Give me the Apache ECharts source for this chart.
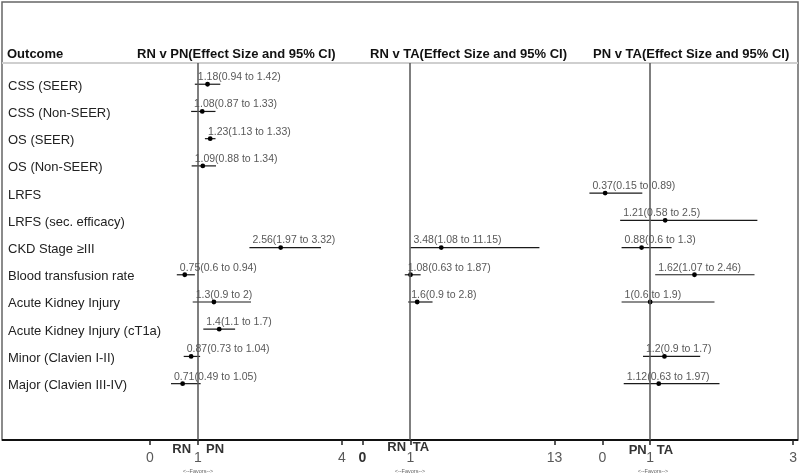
<!DOCTYPE html>
<html>
<head>
<meta charset="utf-8">
<script src="https://cdn.jsdelivr.net/npm/echarts@6/dist/echarts.min.js"></script>
<style>
  html, body { margin: 0; padding: 0; background: #fff; }
  #chart { width: 800px; height: 476px; }
</style>
</head>
<body>
<div id="chart"></div>
<script>
const OUTCOMES = [
  "CSS (SEER)", "CSS (Non-SEER)", "OS (SEER)", "OS (Non-SEER)", "LRFS",
  "LRFS (sec. efficacy)", "CKD Stage ≥III", "Blood transfusion rate",
  "Acute Kidney Injury", "Acute Kidney Injury (cT1a)", "Minor (Clavien I-II)",
  "Major (Clavien III-IV)",
];

const PANEL_TITLES = [
  "RN v PN(Effect Size and 95% CI)",
  "RN v TA(Effect Size and 95% CI)",
  "PN v TA(Effect Size and 95% CI)",
];

// effect size + 95% CI for each outcome row (null = not reported)
const RN_PN_EST = [1.18, 1.08, 1.23, 1.09, null, null, 2.56, 0.75, 1.3, 1.4, 0.87, 0.71];
const RN_PN_LO  = [0.94, 0.87, 1.13, 0.88, null, null, 1.97, 0.6, 0.9, 1.1, 0.73, 0.49];
const RN_PN_HI  = [1.42, 1.33, 1.33, 1.34, null, null, 3.32, 0.94, 2, 1.7, 1.04, 1.05];

const RN_TA_EST = [null, null, null, null, null, null, 3.48, 1.08, 1.6, null, null, null];
const RN_TA_LO  = [null, null, null, null, null, null, 1.08, 0.63, 0.9, null, null, null];
const RN_TA_HI  = [null, null, null, null, null, null, 11.15, 1.87, 2.8, null, null, null];

const PN_TA_EST = [null, null, null, null, 0.37, 1.21, 0.88, 1.62, 1, null, 1.2, 1.12];
const PN_TA_LO  = [null, null, null, null, 0.15, 0.58, 0.6, 1.07, 0.6, null, 0.9, 0.63];
const PN_TA_HI  = [null, null, null, null, 0.89, 2.5, 1.3, 2.46, 1.9, null, 1.7, 1.97];

const TICK_VALUES = [0, 1, 4];
const TICK_LABELS = [["0", "1", "4"], ["0", "1", "13"], ["0", "1", "3"]];
const FAVOR_LABELS = [["RN", "PN"], ["RN", "TA"], ["PN", "TA"]];

const FONT = '"Liberation Sans", Arial, sans-serif';

function toRows(est, lo, hi) {
  const rows = [];
  est.forEach((e, i) => {
    if (e != null) rows.push([i, e, lo[i], hi[i]]);
  });
  return rows;
}

const panels = [
  { data: toRows(RN_PN_EST, RN_PN_LO, RN_PN_HI), left: 150, width: 192, range: [0.094, 3.717] },
  { data: toRows(RN_TA_EST, RN_TA_LO, RN_TA_HI), left: 362.5, width: 192, range: [-2.672, 12.328] },
  { data: toRows(PN_TA_EST, PN_TA_LO, PN_TA_HI), left: 602.5, width: 192.5, range: [0.333, 3.0] },
];

function renderCI(params, api) {
  const yv = api.value(0) - 0.07;
  const est = api.value(1), lo = api.value(2), hi = api.value(3);
  const pLo = api.coord([lo, yv]);
  const pHi = api.coord([hi, yv]);
  const pEst = api.coord([est, yv]);
  return {
    type: "group",
    children: [
      {
        type: "line",
        shape: { x1: pLo[0], y1: pLo[1], x2: pHi[0], y2: pHi[1] },
        style: { stroke: "#1a1a1a", lineWidth: 1.2 },
      },
      {
        type: "circle",
        shape: { cx: pEst[0], cy: pEst[1], r: 2.4 },
        style: { fill: "#000" },
      },
      {
        type: "text",
        x: pLo[0] + 3,
        y: pLo[1] - 7,
        style: {
          text: `${est}(${lo} to ${hi})`,
          fill: "#595959",
          font: `10.5px ${FONT}`,
          align: "left",
          verticalAlign: "middle",
          textAlign: "left",
          textVerticalAlign: "middle",
        },
      },
    ],
  };
}

const chart = echarts.init(document.getElementById("chart"), null, { renderer: "canvas" });

const grids = panels.map((p) => ({ left: p.left, width: p.width, top: 63, height: 377 }));

const displayAxes = panels.map((p, i) => ({
  type: "value",
  gridIndex: i,
  min: 0,
  max: 4,
  position: "bottom",
  axisLine: { show: false, onZero: false },
  splitLine: { show: false },
  axisTick: { show: true, customValues: TICK_VALUES, length: 5, lineStyle: { color: "#222", width: 1.5 } },
  axisLabel: {
    customValues: TICK_VALUES,
    margin: 11,
    color: "#595959",
    fontSize: 14,
    fontFamily: FONT,
    formatter: (v) => {
      const txt = TICK_LABELS[i][TICK_VALUES.indexOf(v)];
      return i === 1 && v === 0 ? `{b|${txt}}` : txt;
    },
    rich: { b: { fontWeight: "bold", color: "#333", fontSize: 14, fontFamily: FONT } },
  },
}));

const dataAxes = panels.map((p, i) => ({
  type: "value",
  gridIndex: i,
  min: p.range[0],
  max: p.range[1],
  show: false,
  axisLine: { onZero: false },
}));

const yAxes = panels.map((p, i) => ({
  type: "value",
  gridIndex: i,
  inverse: true,
  min: -0.85,
  max: 13,
  show: i === 0,
  axisLine: { show: false, onZero: false },
  axisTick: { show: false },
  splitLine: { show: false },
  axisLabel: {
    show: i === 0,
    customValues: OUTCOMES.map((_, k) => k),
    formatter: (v) => OUTCOMES[v] ?? "",
    align: "left",
    margin: 142,
    color: "#222",
    fontSize: 13,
    fontFamily: FONT,
  },
}));

const series = panels.map((p, i) => ({
  type: "custom",
  xAxisIndex: 3 + i,
  yAxisIndex: i,
  clip: false,
  renderItem: renderCI,
  encode: { x: [1, 2, 3], y: 0 },
  data: p.data,
  silent: true,
  markLine: {
    silent: true,
    symbol: "none",
    label: { show: false },
    lineStyle: { color: "#555", width: 1.5, type: "solid" },
    data: [{ xAxis: 1 }],
  },
}));

const headerLefts = [137, 370, 593];
const titles = [
  { text: "Outcome", left: 7, top: 48 },
  ...PANEL_TITLES.map((t, i) => ({ text: t, left: headerLefts[i], top: 48 })),
].map((t) => ({
  ...t,
  padding: 0,
  textStyle: { fontSize: 13, fontWeight: "bold", color: "#111", fontFamily: FONT },
}));

const favorPos = [
  { a: 181.7, b: 215, y: 449, mid: 198 },
  { a: 396.7, b: 421, y: 447, mid: 410 },
  { a: 637.7, b: 665, y: 450, mid: 653 },
];
const favorTexts = [];
favorPos.forEach((f, i) => {
  favorTexts.push(
    { type: "text", x: f.a, y: f.y, style: { text: FAVOR_LABELS[i][0], fill: "#333", font: `bold 13px ${FONT}`, align: "center", verticalAlign: "middle" } },
    { type: "text", x: f.b, y: f.y, style: { text: FAVOR_LABELS[i][1], fill: "#333", font: `bold 13px ${FONT}`, align: "center", verticalAlign: "middle" } },
    { type: "text", x: f.mid, y: 471.5, style: { text: "<--Favors-->", fill: "#666", font: `5.5px ${FONT}`, align: "center", verticalAlign: "middle" } }
  );
});

chart.setOption({
  backgroundColor: "#fff",
  animation: false,
  textStyle: { fontFamily: FONT },
  title: titles,
  grid: grids,
  xAxis: [...displayAxes, ...dataAxes],
  yAxis: yAxes,
  series,
  graphic: [
    { type: "rect", shape: { x: 2, y: 2, width: 796, height: 438 }, style: { fill: "none", stroke: "#666", lineWidth: 1.5 } },
    { type: "line", shape: { x1: 2, y1: 63, x2: 798, y2: 63 }, style: { stroke: "#cfcfcf", lineWidth: 2 } },
    { type: "line", shape: { x1: 2, y1: 440, x2: 798, y2: 440 }, style: { stroke: "#111", lineWidth: 2 } },
    ...favorTexts,
  ],
});
</script>
</body>
</html>
